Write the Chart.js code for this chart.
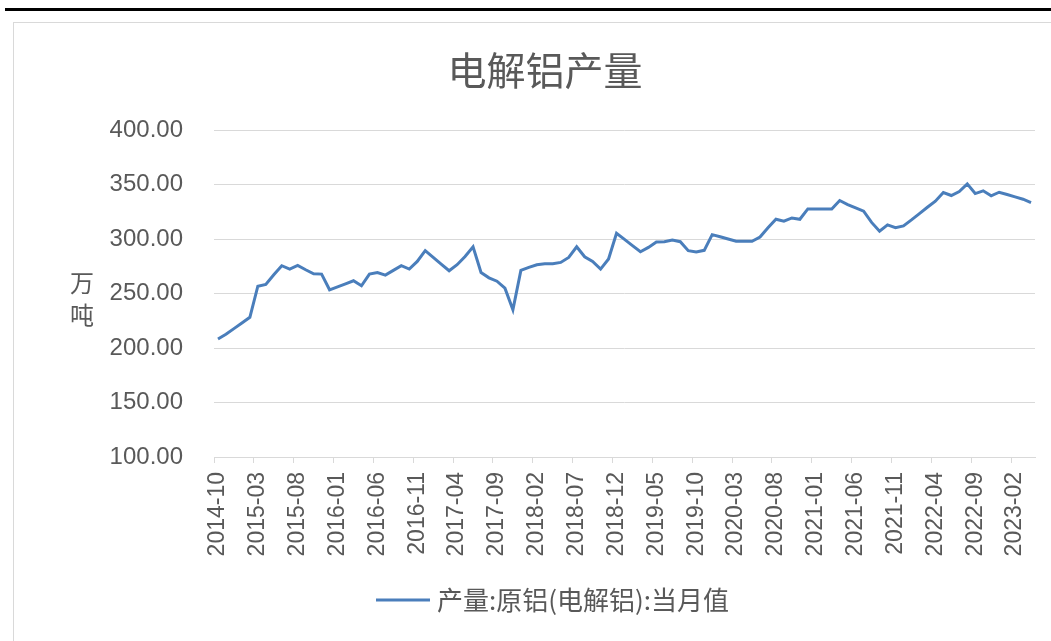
<!DOCTYPE html>
<html>
<head>
<meta charset="utf-8">
<script src="https://cdn.jsdelivr.net/npm/chart.js@4.4.1/dist/chart.umd.min.js"></script>
<style>
  body { margin:0; background:#fff; width:1051px; height:641px; overflow:hidden; position:relative; }
  #rule { position:absolute; left:5px; top:8px; width:1046px; height:3px; background:#000; }
  #frame { position:absolute; left:13px; top:22px; width:1100px; height:700px; border:1px solid #d9d9d9; }
  canvas { position:absolute; left:0; top:0; }
</style>
</head>
<body>
<div id="rule"></div>
<div id="frame"></div>
<canvas id="myChart" width="1051" height="641"></canvas>
<script>
var chartTitle = '电解铝产量';
var unitChars = ['万', '吨'];
var seriesName = '产量:原铝(电解铝):当月值';

// monthly, 2014-10 .. 2023-04
var startYear = 2014, startMonth = 10, monthCount = 103;
var months = [];
for (var i = 0; i < monthCount; i++) {
  var m = startMonth - 1 + i;
  var y = startYear + Math.floor(m / 12);
  var mm = (m % 12) + 1;
  months.push(y + '-' + (mm < 10 ? '0' + mm : mm));
}

var output = [
  208.3, 212.6, 217.8, 223.0, 228.2, 256.7, 258.3, 267.2, 275.5, 272.4,
  275.8, 271.8, 268.1, 267.8, 253.4, 256.1, 258.9, 261.7, 257.1, 267.8,
  269.2, 266.9, 271.2, 275.5, 272.4, 279.4, 289.3, 283.1, 277.0, 270.9,
  276.4, 284.0, 292.9, 269.3, 264.4, 261.3, 254.9, 235.0, 271.2, 273.9,
  276.4, 277.3, 277.3, 278.5, 283.1, 292.9, 283.7, 279.4, 272.4, 281.6,
  305.2, 299.7, 293.9, 288.3, 292.3, 297.2, 297.5, 299.1, 297.5, 289.3,
  288.0, 289.6, 304.0, 302.1, 300.0, 297.9, 297.9, 297.9, 301.8, 310.4,
  318.1, 316.3, 319.3, 318.1, 327.6, 327.6, 327.6, 327.6, 335.3, 331.6,
  328.5, 325.5, 315.2, 307.1, 312.9, 310.4, 312.0, 317.5, 323.3, 329.1,
  334.7, 342.6, 339.9, 343.6, 350.6, 341.7, 344.2, 339.6, 342.9, 340.8,
  338.7, 336.5, 333.4
];

var yMin = 100, yMax = 400, yStep = 50;
var labelEvery = 5;

var textColor = '#595959';
var gridColor = '#d9d9d9';
var lineColor = '#4a7ebb';
var latin = '"Liberation Sans", "Noto Sans CJK SC", sans-serif';
var cjk = '"Noto Sans CJK SC", "Liberation Sans", sans-serif';

const decor = {
  id: 'decor',
  afterDraw(chart) {
    const c = chart.ctx;
    c.save();
    c.fillStyle = textColor;
    c.textAlign = 'center';
    c.textBaseline = 'middle';
    c.font = '39px ' + cjk;
    c.fillText(chartTitle, 545, 70);
    c.font = '24px ' + cjk;
    c.fillText(unitChars[0], 82, 283);
    c.fillText(unitChars[1], 82, 315);
    const ds = chart.data.datasets[0];
    c.strokeStyle = ds.borderColor;
    c.lineWidth = 3;
    c.beginPath();
    c.moveTo(376, 600);
    c.lineTo(430, 600);
    c.stroke();
    c.textAlign = 'left';
    c.font = '26px ' + cjk;
    c.fillText(ds.label, 437, 600);
    c.restore();
  }
};

const ctx = document.getElementById('myChart');
new Chart(ctx, {
  type: 'line',
  data: {
    labels: months,
    datasets: [{
      label: seriesName,
      data: output,
      borderColor: lineColor,
      borderWidth: 3,
      pointRadius: 0,
      tension: 0,
      fill: false
    }]
  },
  options: {
    responsive: false,
    animation: false,
    layout: { padding: { left: 0, right: 16, top: 130, bottom: 0 } },
    plugins: {
      legend: { display: false },
      title: { display: false },
      tooltip: { enabled: false }
    },
    scales: {
      x: {
        offset: true,
        afterFit: function (s) { s.height = 184; s.paddingLeft = 0; s.paddingRight = 0; },
        grid: {
          offset: true,
          drawOnChartArea: false,
          tickLength: 6,
          color: function (c) { return c.index % labelEvery === 0 ? gridColor : 'rgba(0,0,0,0)'; }
        },
        border: { display: true, color: gridColor, width: 1 },
        ticks: {
          autoSkip: false,
          minRotation: 90,
          maxRotation: 90,
          padding: 9,
          color: textColor,
          font: { family: latin, size: 23 },
          callback: function (v, i) { return i % labelEvery === 0 ? months[i] : ''; }
        }
      },
      y: {
        min: yMin,
        max: yMax,
        afterFit: function (s) { s.width = 214; s.paddingTop = 0; s.paddingBottom = 0; },
        grid: { color: gridColor, drawTicks: false, lineWidth: 1 },
        border: { display: false },
        ticks: {
          stepSize: yStep,
          padding: 31,
          color: textColor,
          font: { family: latin, size: 24 },
          callback: function (v) { return v.toFixed(2); }
        }
      }
    }
  },
  plugins: [decor]
});
</script>
</body>
</html>
